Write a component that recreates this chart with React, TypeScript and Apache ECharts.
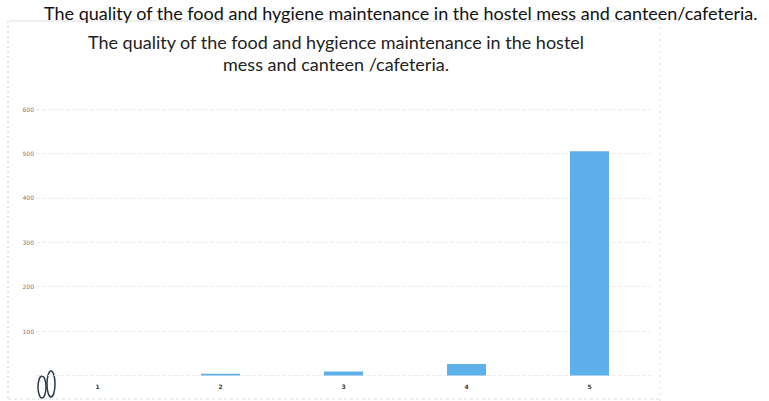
import React, { useEffect, useRef } from "react";
import * as echarts from "echarts";

const categories = ["1", "2", "3", "4", "5"];
const values = [0, 4, 9, 26, 505];
const yTicks = [0, 100, 200, 300, 400, 500, 600];
const topTitle = "The quality of the food and hygiene maintenance in the hostel mess and canteen/cafeteria.";
const chartTitle = "The quality of the food and hygience maintenance in the hostel\nmess and canteen /cafeteria.";

export default function App() {
  const ref = useRef<HTMLDivElement>(null);
  useEffect(() => {
    if (!ref.current) return;
    const chart = echarts.init(ref.current, null, { renderer: "svg" });
    chart.setOption({
      animation: false,
      backgroundColor: "#ffffff",
      title: [
        {
          text: topTitle,
          left: 44,
          top: 2,
          padding: 0,
          textStyle: { fontFamily: "Lato", fontSize: 18, fontWeight: "normal", color: "#111", lineHeight: 22 },
        },
        {
          text: chartTitle,
          left: 336,
          top: 31,
          padding: 0,
          textAlign: "center",
          textStyle: { fontFamily: "Lato", fontSize: 18, fontWeight: "normal", color: "#222", lineHeight: 22, align: "center" },
        },
      ],
      grid: { left: 36, right: 118, top: 109, bottom: 25.5 },
      xAxis: {
        type: "category",
        data: categories,
        axisLine: { show: false },
        axisTick: { show: false },
        axisLabel: { fontSize: 6, fontWeight: "bold", color: "#333", margin: 8, fontFamily: "DejaVu Sans" },
      },
      yAxis: {
        type: "value",
        min: yTicks[0],
        max: yTicks[yTicks.length - 1],
        interval: 100,
        axisLine: { show: false },
        axisTick: { show: false },
        axisLabel: {
          fontSize: 6,
          color: "#777",
          margin: 2,
          fontFamily: "DejaVu Sans",
          formatter: (v: number) => (v === 0 ? "" : String(v)),
        },
        splitLine: { lineStyle: { color: "#eeeeee", type: "dashed", width: 1 } },
      },
      series: [
        {
          type: "bar",
          data: values,
          barWidth: 39,
          itemStyle: { color: "#5eb0ea" },
        },
      ],
      graphic: [
        { type: "line", shape: { x1: 10, y1: 21, x2: 660, y2: 21 }, style: { stroke: "#dddddd", lineWidth: 1 } },
        { type: "line", shape: { x1: 8, y1: 21, x2: 8, y2: 401 }, style: { stroke: "#cccccc", lineWidth: 1, lineDash: [2, 3] } },
        { type: "line", shape: { x1: 660, y1: 21, x2: 660, y2: 401 }, style: { stroke: "#dddddd", lineWidth: 1, lineDash: [2, 4] } },
        { type: "line", shape: { x1: 8, y1: 399, x2: 660, y2: 399 }, style: { stroke: "#dddddd", lineWidth: 1, lineDash: [3, 3] } },
        { type: "ellipse", shape: { cx: 42, cy: 387, rx: 4, ry: 11 }, style: { fill: "none", stroke: "#2a3a4a", lineWidth: 1.5 } },
        { type: "ellipse", shape: { cx: 51, cy: 384, rx: 4, ry: 13 }, style: { fill: "none", stroke: "#2a3a4a", lineWidth: 1.5 } },
      ],
    });
    return () => chart.dispose();
  }, []);
  return <div ref={ref} style={{ width: 769, height: 401, position: "absolute", left: 0, top: 0 }} />;
}
